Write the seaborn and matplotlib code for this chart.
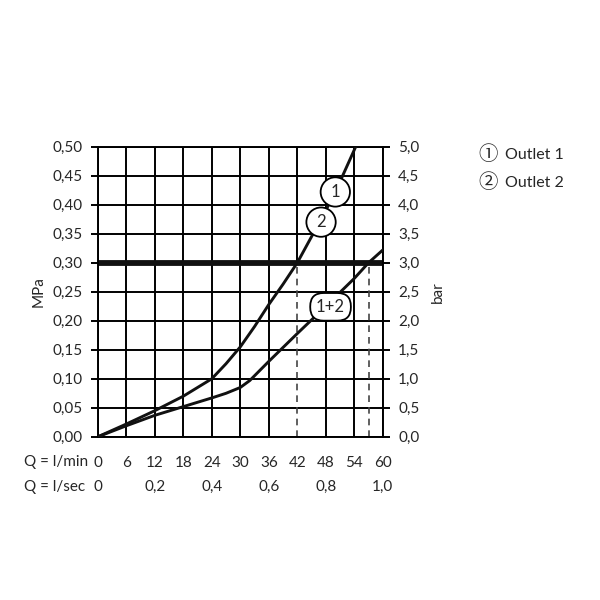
import numpy as np
import pandas as pd
import matplotlib
matplotlib.use("Agg")
import matplotlib.pyplot as plt
import seaborn as sns

# data
flow_single = [0, 6, 12, 18, 24, 27, 30, 33, 36, 39, 42, 45, 48, 51, 54.3]
press_single = [0, 0.022, 0.045, 0.07, 0.10, 0.126, 0.155, 0.19, 0.228, 0.263, 0.30, 0.345, 0.39, 0.44, 0.50]
flow_both = [0, 6, 12, 18, 24, 27, 30, 32, 36, 42, 48, 54, 57, 60]
press_both = [0, 0.019, 0.037, 0.052, 0.067, 0.075, 0.085, 0.097, 0.13, 0.178, 0.225, 0.273, 0.30, 0.322]
marker_flows = [42, 57]
max_pressure = 0.30

lmin_ticks = [0, 6, 12, 18, 24, 30, 36, 42, 48, 54, 60]
lsec_pos = [0, 12, 24, 36, 48, 60]
lsec_labels = ["0", "0,2", "0,4", "0,6", "0,8", "1,0"]
mpa_ticks = [0, 0.05, 0.10, 0.15, 0.20, 0.25, 0.30, 0.35, 0.40, 0.45, 0.50]
mpa_labels = ["0,00", "0,05", "0,10", "0,15", "0,20", "0,25", "0,30", "0,35", "0,40", "0,45", "0,50"]
bar_labels = ["0,0", "0,5", "1,0", "1,5", "2,0", "2,5", "3,0", "3,5", "4,0", "4,5", "5,0"]

curve_labels = [("1", 50, 0.422, "circle,pad=0.4"),
                ("2", 47, 0.370, "circle,pad=0.4"),
                ("1+2", 49, 0.224, "round,pad=0.35,rounding_size=0.8")]
legend_marks = ["\u2460", "\u2461"]
legend_names = ["Outlet 1", "Outlet 2"]

sns.set_style("white")
plt.rcParams["font.family"] = ["Lato", "DejaVu Sans", "Noto Sans CJK SC"]
fs = 11

df1 = pd.DataFrame({"flow": flow_single, "p": press_single})
df2 = pd.DataFrame({"flow": flow_both, "p": press_both})

fig = plt.figure(figsize=(6, 6), dpi=100)
ax = fig.add_axes([0.163, 0.272, 0.475, 0.4835])

for x in lmin_ticks:
    if x in marker_flows:
        # below the limit line this grid line is drawn dashed instead
        ax.plot([x, x], [max_pressure, 0.5], color="black", lw=1.4, zorder=1)
    else:
        ax.axvline(x, color="black", lw=1.4, zorder=1)
for y in mpa_ticks:
    ax.axhline(y, color="black", lw=1.4, zorder=1)
ax.axhline(max_pressure, color="#111111", lw=4.2, zorder=2)
for x in marker_flows:
    ax.plot([x, x], [0, max_pressure], color="#444444", lw=1.2, ls=(0, (4, 3)), zorder=2)

sns.lineplot(data=df1, x="flow", y="p", color="#111111", lw=2.1, ax=ax, sort=False, zorder=3)
sns.lineplot(data=df2, x="flow", y="p", color="#111111", lw=2.1, ax=ax, sort=False, zorder=3)

for txt, x, y, style in curve_labels:
    ax.text(x, y, txt, ha="center", va="center", fontsize=12, zorder=5,
            bbox=dict(boxstyle=style, fc="white", ec="black", lw=1.3))

ax.set_xlim(0, 60)
ax.set_ylim(0, 0.5)
ax.set_xticks(lmin_ticks)
ax.set_xticklabels([str(v) for v in lmin_ticks], fontsize=fs)
ax.set_yticks(mpa_ticks)
ax.set_yticklabels(mpa_labels, fontsize=fs)
ax.tick_params(axis="both", direction="out", length=5, width=1.4, color="black", pad=6)
ax.tick_params(axis="x", pad=9)
for s in ax.spines.values():
    s.set_color("black")
    s.set_linewidth(1.4)
ax.set_xlabel("")
ax.set_ylabel("MPa", fontsize=fs, labelpad=5)

ax2 = ax.twinx()
ax2.set_ylim(0, 5)
ax2.set_yticks(np.array(mpa_ticks) * 10)
ax2.set_yticklabels(bar_labels, fontsize=fs)
ax2.tick_params(axis="y", direction="out", length=5, width=1.4, color="black", pad=6)
ax2.set_ylabel("bar", fontsize=fs, rotation=90, labelpad=8)
for s in ax2.spines.values():
    s.set_visible(False)

fig.text(24 / 600, 1 - 462 / 600, "Q = l/min", fontsize=fs, ha="left", va="center")
fig.text(24 / 600, 1 - 487 / 600, "Q = l/sec", fontsize=fs, ha="left", va="center")
trans = ax.get_xaxis_transform()
for pos, lab in zip(lsec_pos, lsec_labels):
    ax.text(pos, -(487 - 436.7) / 290, lab, transform=trans, ha="center", va="center", fontsize=fs)

for i, (mark, name) in enumerate(zip(legend_marks, legend_names)):
    yy = 1 - (155 + 28 * i) / 600
    fig.text(488 / 600, yy, mark, fontsize=14, ha="center", va="center",
             family=["Noto Sans CJK SC", "DejaVu Sans"])
    fig.text(505 / 600, yy, name, fontsize=fs + 0.5, ha="left", va="center")

fig.savefig("out.png", dpi=100, facecolor="white")
